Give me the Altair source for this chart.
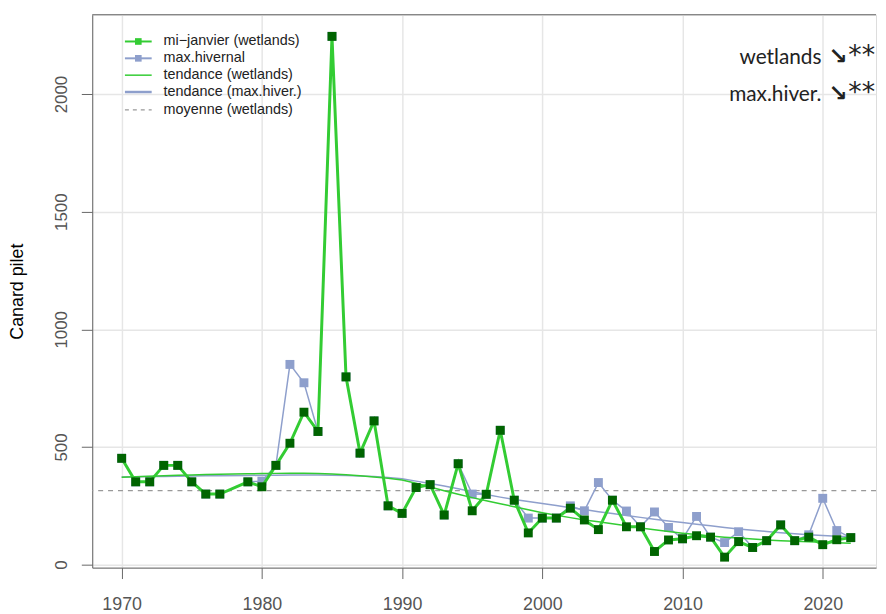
import altair as alt
import pandas as pd

# ---- data ----
years = [1970, 1971, 1972, 1973, 1974, 1975, 1976, 1977, 1979, 1980,
         1981, 1982, 1983, 1984, 1985, 1986, 1987, 1988, 1989, 1990,
         1991, 1992, 1993, 1994, 1995, 1996, 1997, 1998, 1999, 2000,
         2001, 2002, 2003, 2004, 2005, 2006, 2007, 2008, 2009, 2010,
         2011, 2012, 2013, 2014, 2015, 2016, 2017, 2018, 2019, 2020,
         2021, 2022]
mi_janvier = [452, 352, 352, 422, 422, 352, 300, 300, 352, 331,
              422, 516, 648, 566, 2245, 798, 474, 611, 250, 218,
              328, 340, 211, 429, 229, 299, 571, 274, 135, 198,
              198, 240, 190, 149, 274, 161, 161, 56, 105, 110,
              123, 117, 32, 98, 73, 102, 169, 102, 117, 85,
              106, 115]
max_hivernal = [452, 352, 352, 422, 422, 352, 300, 300, 352, 355,
                422, 851, 773, 566, 2245, 798, 474, 611, 250, 218,
                328, 340, 211, 429, 300, 299, 571, 274, 198, 198,
                198, 250, 229, 349, 274, 228, 161, 224, 158, 110,
                205, 117, 94, 140, 73, 102, 169, 102, 127, 282,
                145, 115]
tendance_wetlands = [372, 374, 376, 378, 380, 381, 383, 384, 386, 387,
                     388, 389, 389, 387, 385, 382, 378, 373, 367, 360,
                     346, 330, 314, 299, 285, 272, 259, 246, 233, 221,
                     210, 200, 190, 182, 174, 165, 156, 148, 141, 134,
                     128, 122, 117, 113, 109, 105, 102, 100, 97, 95,
                     93, 91]
tendance_max = [373, 374, 375, 375, 376, 377, 378, 378, 379, 380,
                380, 381, 381, 381, 380, 379, 377, 375, 371, 365,
                355, 345, 334, 323, 310, 298, 287, 277, 268, 260,
                251, 242, 234, 225, 217, 209, 201, 193, 186, 179,
                172, 165, 158, 152, 146, 141, 136, 131, 127, 124,
                121, 119]
moyenne_wetlands = 315

x_ticks = [1970, 1980, 1990, 2000, 2010, 2020]
y_ticks = [0, 500, 1000, 1500, 2000]
y_title = "Canard pilet"

legend_labels = ["mi\u2212janvier (wetlands)", "max.hivernal", "tendance (wetlands)",
                 "tendance (max.hiver.)", "moyenne (wetlands)"]
annot_names = ["wetlands\u2002", "max.hiver."]
annot_arrows = ["\u2198", "\u2198"]
annot_stars = ["**", "**"]

# ---- styling ----
GREEN = "#33cc33"
DKGREEN = "#006400"
BLUE = "#8e9fcc"
W, H = 791, 558
FONT = "Liberation Sans"

df = pd.DataFrame({"year": years, "wet": mi_janvier, "max": max_hivernal,
                   "tw": tendance_wetlands, "tm": tendance_max})

xs = alt.Scale(domain=[1967.9, 2023.8], nice=False, zero=False)
ys = alt.Scale(domain=[-12.6, 2337], nice=False, zero=False)

xaxis = alt.Axis(values=x_ticks, format="d", title=None, labelFont=FONT, labelFontSize=18,
                 labelColor="#555", tickSize=11, tickColor="#666", domainColor="#666",
                 labelPadding=17, grid=True, gridColor="#e6e6e6", gridWidth=1.5,
                 labelFlush=False, labelOverlap=False)
yaxis = alt.Axis(values=y_ticks, format="d", title=y_title, labelFont=FONT, labelFontSize=17,
                 labelColor="#555", tickSize=11, tickColor="#666", domainColor="#666",
                 labelAngle=270, labelAlign="center", labelBaseline="bottom", labelPadding=11,
                 grid=True, gridColor="#e6e6e6", gridWidth=1.5, labelFlush=False,
                 labelOverlap=False,
                 titleFont=FONT, titleFontSize=18, titleFontWeight="normal", titleColor="#000",
                 titleAngle=270, titleX=-75, titleY=H / 2, titleAlign="center",
                 titleBaseline="middle")


def X():
    return alt.X("year:Q", scale=xs, axis=xaxis)


def Y(f):
    return alt.Y(f"{f}:Q", scale=ys, axis=yaxis)


base = alt.Chart(df)

mean_df = pd.DataFrame({"moyenne": [moyenne_wetlands]})
mean_rule = alt.Chart(mean_df).mark_rule(color="#999", strokeWidth=1.2, strokeDash=[5, 5]).encode(
    y=alt.Y("moyenne:Q", scale=ys, axis=yaxis))

max_line = base.mark_line(color=BLUE, strokeWidth=1.5).encode(x=X(), y=Y("max"))
max_pts = base.mark_square(color=BLUE, size=81, opacity=1).encode(x=X(), y=Y("max"))
trend_max = base.mark_line(color=BLUE, strokeWidth=1.5).encode(x=X(), y=Y("tm"))
trend_wet = base.mark_line(color=GREEN, strokeWidth=1.5).encode(x=X(), y=Y("tw"))
wet_line = base.mark_line(color=GREEN, strokeWidth=3).encode(x=X(), y=Y("wet"))
wet_pts = base.mark_square(color=DKGREEN, size=81, opacity=1).encode(x=X(), y=Y("wet"))

top_rule = alt.Chart(mean_df).mark_rule(color="#666", strokeWidth=1).encode(
    x=alt.value(0), x2=alt.value(W), y=alt.value(0))

# ---- legend (drawn by hand, top-left inside the plot) ----
leg = pd.DataFrame({
    "label": legend_labels,
    "py": [27, 44, 61, 78, 96],
    "col": [GREEN, BLUE, GREEN, BLUE, "#999"],
    "sw": [2, 2, 1.5, 2.5, 1.3],
})
leg_text = alt.Chart(leg).mark_text(align="left", baseline="middle", font=FONT,
                                    fontSize=14.5, color="#222").encode(
    x=alt.value(72), y=alt.Y("py:Q", scale=None), text="label:N")
leg_solid = alt.Chart(leg.iloc[:4]).mark_rule().encode(
    x=alt.value(33), x2=alt.value(60), y=alt.Y("py:Q", scale=None),
    color=alt.Color("col:N", scale=None), strokeWidth=alt.StrokeWidth("sw:Q", scale=None))
leg_dash = alt.Chart(leg.iloc[4:]).mark_rule(strokeDash=[4, 4], color="#999", strokeWidth=1.3).encode(
    x=alt.value(33), x2=alt.value(60), y=alt.Y("py:Q", scale=None))
leg_sq = alt.Chart(leg.iloc[:2]).mark_square(size=45, opacity=1).encode(
    x=alt.value(46.5), y=alt.Y("py:Q", scale=None), color=alt.Color("col:N", scale=None))

# ---- annotation top-right ----
ann = pd.DataFrame({"name": annot_names, "arrow": annot_arrows, "stars": annot_stars,
                    "py": [50, 87]})
ann_name = alt.Chart(ann).mark_text(align="right", baseline="alphabetic", font="Lato",
                                    fontSize=21, color="#222").encode(
    x=alt.value(736), y=alt.Y("py:Q", scale=None), text="name:N")
ann_arrow = alt.Chart(ann).mark_text(align="left", baseline="alphabetic", font="DejaVu Sans",
                                     fontSize=23, fontWeight="bold", color="#222").encode(
    x=alt.value(743), y=alt.Y("py:Q", scale=None), text="arrow:N")
ann_stars = alt.Chart(ann).mark_text(align="left", baseline="alphabetic", font="DejaVu Sans",
                                     fontSize=27, color="#222").encode(
    x=alt.value(763), y=alt.Y("py:Q", scale=None), text="stars:N")

chart = alt.layer(
    mean_rule, max_line, max_pts, trend_max, trend_wet, wet_line, wet_pts, top_rule,
    leg_solid, leg_dash, leg_sq, leg_text, ann_name, ann_arrow, ann_stars
).properties(
    width=W, height=H,
    autosize=alt.AutoSizeParams(type="none"),
    padding={"left": 85, "top": 4, "right": 2, "bottom": 44},
).configure_view(stroke=None).configure(background="white")

chart.save("out.html", embed_options={"renderer": "svg", "actions": False})
